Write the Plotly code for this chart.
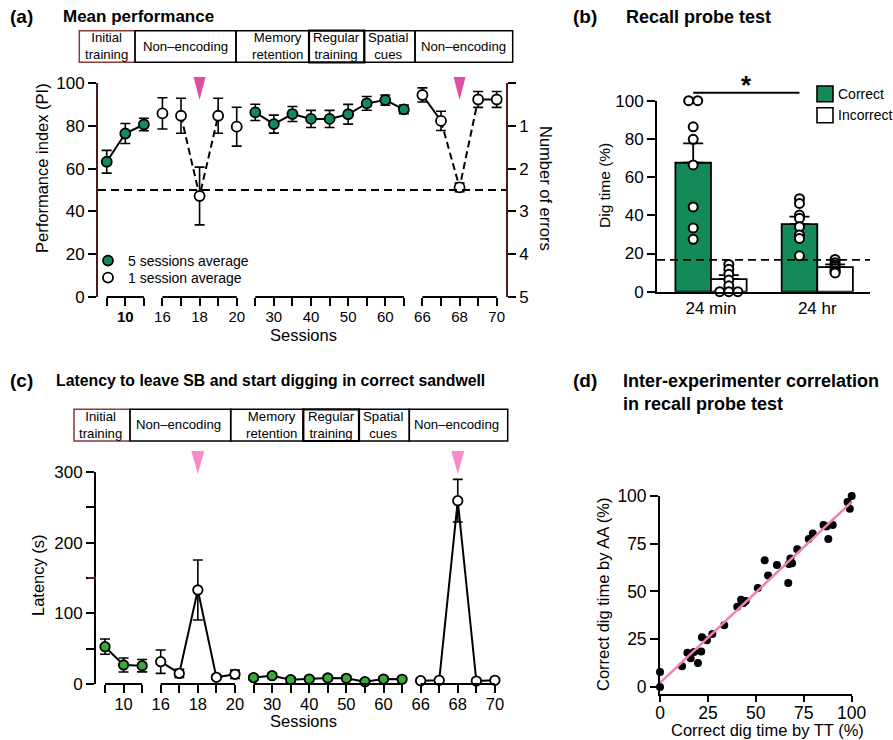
import numpy as np
import plotly.graph_objects as go

# ======================= DATA =======================
# (a) Mean performance
a_sessions = [5, 10, 15, 16, 17, 18, 19, 20, 25, 30, 35, 40, 45, 50, 55, 60, 65, 66, 67, 68, 69, 70]
a_labeled = [10, 16, 18, 20, 30, 40, 50, 60, 66, 68, 70]
a_segment = [0, 0, 0, 1, 1, 1, 1, 1, 2, 2, 2, 2, 2, 2, 2, 2, 2, 3, 3, 3, 3, 3]
a_five_avg = [1, 1, 1, 0, 0, 0, 0, 0, 1, 1, 1, 1, 1, 1, 1, 1, 1, 0, 0, 0, 0, 0]
a_pi = [63.2, 76.4, 80.6, 85.8, 84.7, 47.2, 84.7, 79.6, 86.3, 80.8, 85.5, 83.2, 83.2,
        85.4, 90.5, 92.0, 87.7, 94.4, 82.3, 51.2, 92.3, 92.3]
a_sem = [5.3, 4.7, 2.9, 7.3, 8.2, 13.5, 8.2, 9.1, 3.8, 4.2, 3.5, 4.0, 4.0, 4.6, 3.2,
         2.4, 2.0, 3.3, 4.5, 2.0, 3.7, 3.7]
a_solid_runs = [[5, 10, 15], [25, 30, 35, 40, 45, 50, 55, 60, 65], [66, 67], [69, 70]]
a_dashed_runs = [[17, 18, 19], [67, 68, 69]]
probe_sessions = [18, 68]
chance_pi = 50
err_ticks = [0, 1, 2, 3, 4, 5]
err_labels = ['', '1', '2', '3', '4', '5']

phase_labels = ["Initial<br>training", "Non–encoding", "Memory<br>retention",
                "Regular<br>training", "Spatial<br>cues", "Non–encoding"]

# (b) Recall probe test
b_groups = ['24 min', '24 hr']
b_correct = [67.5, 35.4]
b_correct_sem = [10.2, 3.9]
b_incorrect = [6.6, 12.9]
b_incorrect_sem = [2.1, 1.4]
b_correct_dots = [[100, 100, 86.3, 79.8, 66.4, 44.4, 33.4, 27.4],
                  [48.7, 46.2, 40.1, 38.4, 34.0, 29.7, 27.9, 18.8]]
b_incorrect_dots = [[14.3, 11.7, 9.1, 6.1, 3.1, 0, 0, 0],
                    [16.9, 15.2, 14.0, 13.2, 12.2, 11.0, 10.5, 9.8]]
b_chance = 16.7
b_sig_y = 104.2

# (c) Latency
c_latency = [52.8, 26.9, 25.9, 31.6, 15.0, 133.0, 9.4, 13.7, 9.0, 11.8, 6.1, 7.0, 8.5,
             8.0, 3.3, 7.0, 6.6, 4.7, 5.2, 259.4, 4.2, 5.2]
c_sem = [10.8, 9.9, 8.7, 16.5, 5.9, 42.5, 3.0, 5.9, 3.0, 3.0, 3.0, 3.0, 3.0, 3.0, 3.0,
         3.0, 3.0, 2.0, 2.0, 30.2, 2.0, 2.0]
c_runs = [[5, 10, 15], [16, 17, 18, 19, 20], [25, 30, 35, 40, 45, 50, 55, 60, 65],
          [66, 67, 68, 69, 70]]

# (d) Inter-experimenter correlation
d_tt = [0, 0, 11.5, 14.3, 16.0, 17.8, 19.8, 21.5, 21.9, 24.5, 27.3, 33.5, 40.3, 42.3, 43.6,
        44.7, 51.0, 54.6, 56.4, 61.0, 66.9, 67.3, 68.0, 68.9, 71.6, 77.6, 79.7, 85.3, 86.9,
        87.8, 90.1, 97.8, 99.0, 100]
d_aa = [0, 7.8, 10.8, 17.9, 15.0, 18.3, 12.5, 18.5, 26.0, 24.4, 27.7, 32.3, 42.0, 45.6, 44.0,
        45.0, 51.8, 66.3, 58.4, 63.8, 54.4, 64.4, 67.3, 64.8, 72.1, 77.5, 80.3, 84.8, 84.0,
        77.5, 84.8, 96.8, 93.3, 100]

# ======================= STYLE / LAYOUT =======================
W, H = 893, 740
def fx(p): return p / W
def fy(p): return 1 - p / H

FONT = "Liberation Sans, Arial, sans-serif"
AX_RED = "#4d1a1a"
GREEN_A = "#138a57"
GREEN_C = "#3ba83a"
PINK_A = "#e04ea2"
PINK_C = "#f88cc8"
PINK_D = "#f27fb9"

fig = go.Figure()
idx = list(range(len(a_sessions)))
ticktext = [("<b>%d</b>" % s if s == 10 else str(s)) if s in a_labeled else '' for s in a_sessions]
ticktext_c = [str(s) if s in a_labeled else '' for s in a_sessions]

def to_idx(runs):
    return [[a_sessions.index(s) for s in r] for r in runs]

# ---------- (a) ----------
for run in to_idx(a_solid_runs):
    fig.add_trace(go.Scatter(x=run, y=[a_pi[i] for i in run], mode='lines',
                             line=dict(color='black', width=2), showlegend=False,
                             hoverinfo='skip', xaxis='x', yaxis='y'))
for run in to_idx(a_dashed_runs):
    fig.add_trace(go.Scatter(x=run, y=[a_pi[i] for i in run], mode='lines',
                             line=dict(color='black', width=2, dash='7px,4px'), showlegend=False,
                             hoverinfo='skip', xaxis='x', yaxis='y'))
for flag, fill, name, leg in [(1, GREEN_A, '5 sessions average', 'legend'),
                              (0, 'white', '1 session average', 'legend2')]:
    sel = [i for i in idx if a_five_avg[i] == flag]
    fig.add_trace(go.Scatter(
        x=sel, y=[a_pi[i] for i in sel], mode='markers', name=name, legend=leg,
        marker=dict(size=10, color=fill, line=dict(color='black', width=1.8)),
        error_y=dict(type='data', array=[a_sem[i] for i in sel], color='black',
                     thickness=1.6, width=5),
        cliponaxis=False, xaxis='x', yaxis='y'))
# attach the right-hand "Number of errors" axis
fig.add_trace(go.Scatter(x=[None], y=[None], mode='markers', showlegend=False,
                         hoverinfo='skip', xaxis='x', yaxis='y2'))

# ---------- (b) ----------
bw = 0.335
fig.add_trace(go.Bar(x=[0, 1], y=b_correct, width=bw, offset=-bw,
                     marker=dict(color=GREEN_A, line=dict(color='black', width=1.8)),
                     error_y=dict(type='data', array=b_correct_sem, arrayminus=[0, 0],
                                  symmetric=False, color='black', thickness=1.8, width=10),
                     showlegend=False, xaxis='x3', yaxis='y3'))
fig.add_trace(go.Bar(x=[0, 1], y=b_incorrect, width=bw, offset=0,
                     marker=dict(color='white', line=dict(color='black', width=1.8)),
                     error_y=dict(type='data', array=b_incorrect_sem, arrayminus=[0, 0],
                                  symmetric=False, color='black', thickness=1.8, width=10),
                     showlegend=False, xaxis='x3', yaxis='y3'))

def swarm_offsets(vals, tol=0.5, step=0.085):
    offs = [0.0] * len(vals)
    order = sorted(range(len(vals)), key=lambda i: vals[i])
    clusters = []
    for i in order:
        if clusters and abs(vals[i] - vals[clusters[-1][-1]]) < tol:
            clusters[-1].append(i)
        else:
            clusters.append([i])
    for cl in clusters:
        n = len(cl)
        for k, i in enumerate(cl):
            offs[i] = (k - (n - 1) / 2) * step
    return offs

for g in range(2):
    for dots, center in [(b_correct_dots[g], g - bw / 2), (b_incorrect_dots[g], g + bw / 2)]:
        offs = swarm_offsets(dots)
        fig.add_trace(go.Scatter(x=[center + o for o in offs], y=dots, mode='markers',
                                 marker=dict(size=9, color='white', line=dict(color='black', width=2)),
                                 cliponaxis=False, showlegend=False, xaxis='x3', yaxis='y3'))

# ---------- (c) ----------
for run in to_idx(c_runs):
    fig.add_trace(go.Scatter(x=run, y=[c_latency[i] for i in run], mode='lines',
                             line=dict(color='black', width=2), showlegend=False,
                             hoverinfo='skip', xaxis='x4', yaxis='y4'))
for flag, fill in [(1, GREEN_C), (0, 'white')]:
    sel = [i for i in idx if a_five_avg[i] == flag]
    fig.add_trace(go.Scatter(
        x=sel, y=[c_latency[i] for i in sel], mode='markers',
        marker=dict(size=9.5, color=fill, line=dict(color='black', width=1.8)),
        error_y=dict(type='data', array=[c_sem[i] for i in sel], color='black',
                     thickness=1.6, width=5),
        cliponaxis=False, showlegend=False, xaxis='x4', yaxis='y4'))

# ---------- (d) ----------
slope, intercept = np.polyfit(d_tt, d_aa, 1)
fig.add_trace(go.Scatter(x=d_tt, y=d_aa, mode='markers',
                         marker=dict(size=8, color='black'), cliponaxis=False,
                         showlegend=False, xaxis='x5', yaxis='y5'))
xfit = [min(d_tt), max(d_tt)]
fig.add_trace(go.Scatter(x=xfit, y=[slope * v + intercept for v in xfit], mode='lines',
                         line=dict(color=PINK_D, width=2.5), showlegend=False,
                         xaxis='x5', yaxis='y5'))

# ======================= AXES =======================
tickfont = dict(family=FONT, size=17, color='black')
common = dict(showgrid=False, zeroline=False, ticks='outside', tickcolor='black',
              tickwidth=1.6, automargin=False)

layout = dict(
    template='none',
    width=W, height=H, margin=dict(l=0, r=0, t=0, b=0, pad=0), autosize=False,
    paper_bgcolor='white', plot_bgcolor='rgba(0,0,0,0)',
    font=dict(family=FONT, color='black'),
    showlegend=True,
    xaxis=dict(domain=[fx(98), fx(506)], range=[-0.47, 21.5], tickvals=idx, ticktext=ticktext,
               showline=False, ticklen=8, ticklabelstandoff=-2,
               tickfont=dict(family=FONT, size=15, color='black'), anchor='y', **common),
    yaxis=dict(domain=[fy(297), fy(83)], range=[0, 100], tickvals=[0, 20, 40, 60, 80, 100],
               showline=True, linecolor=AX_RED, linewidth=1.8, tickfont=tickfont, anchor='x',
               ticklen=8, **common),
    yaxis2=dict(overlaying='y', side='right', anchor='x', range=[5, 0], tickvals=err_ticks,
                ticktext=err_labels, showline=True, linecolor=AX_RED, linewidth=1.8,
                tickfont=tickfont, ticklen=8, **common),
    xaxis3=dict(domain=[fx(657), fx(870)], range=[-0.508, 1.496], tickvals=[0, 1],
                ticktext=b_groups, showline=True, linecolor='black', linewidth=1.8,
                showgrid=False, zeroline=False, ticks='', automargin=False,
                tickfont=tickfont, anchor='y3'),
    yaxis3=dict(domain=[fy(291.7), fy(100.7)], range=[0, 100], tickvals=[0, 20, 40, 60, 80, 100],
                showline=True, linecolor='black', linewidth=1.8, tickfont=tickfont, anchor='x3',
                ticklen=8, **common),
    xaxis4=dict(domain=[fx(96), fx(504)], range=[-0.485, 21.49], tickvals=idx, ticktext=ticktext_c,
                showline=False, ticklen=8, ticklabelstandoff=-3,
                tickfont=dict(family=FONT, size=16.5, color='black'), anchor='y4', **common),
    yaxis4=dict(domain=[fy(684), fy(472)], range=[0, 300], tickvals=[0, 50, 100, 150, 200, 250, 300],
                ticktext=['0', '', '100', '', '200', '', '300'], showline=True, linecolor='black',
                linewidth=1.8, tickfont=tickfont, anchor='x4', ticklen=8, **common),
    xaxis5=dict(domain=[fx(660), fx(851.7)], range=[0, 100], tickvals=[0, 25, 50, 75, 100],
                showline=True, linecolor='black', linewidth=1.8, ticklen=6, ticklabelstandoff=-4,
                tickfont=dict(family=FONT, size=17.5, color='black'), anchor='y5', **common),
    yaxis5=dict(domain=[fy(694), fy(496)], range=[-3.7, 100], tickvals=[0, 25, 50, 75, 100],
                showline=True, linecolor='black', linewidth=1.8, ticklen=8,
                tickfont=dict(family=FONT, size=17.5, color='black'), anchor='x5', **common),
    legend=dict(x=fx(88), y=fy(261), xanchor='left', yanchor='middle', bgcolor='rgba(0,0,0,0)',
                font=dict(family=FONT, size=14, color='black'), itemwidth=30, borderwidth=0),
    legend2=dict(x=fx(88), y=fy(278), xanchor='left', yanchor='middle', bgcolor='rgba(0,0,0,0)',
                 font=dict(family=FONT, size=14, color='black'), itemwidth=30, borderwidth=0),
)
fig.update_layout(**layout)

shapes = []
ann = []

def text(x, y, s, size=16, bold=False, xanchor='center', yanchor='middle', angle=0, color='black'):
    ann.append(dict(x=fx(x), y=fy(y), xref='paper', yref='paper', text=("<b>%s</b>" % s) if bold else s,
                    showarrow=False, xanchor=xanchor, yanchor=yanchor, textangle=angle,
                    font=dict(family=FONT, size=size, color=color)))

# segment brackets (a) and (c)
for xr, yr in [('x', 'y domain'), ('x4', 'y4 domain')]:
    for sgi in sorted(set(a_segment)):
        members = [i for i in idx if a_segment[i] == sgi]
        shapes.append(dict(type='line', xref=xr, yref=yr, x0=min(members), x1=max(members),
                           y0=0, y1=0, line=dict(color='black', width=2)))

# small reddish mid tick on the latency axis
shapes.append(dict(type='line', xref='x4 domain', yref='y4', x0=-8, x1=0, y0=150, y1=150,
                   xsizemode='pixel', xanchor=0, line=dict(color='#7a1f1f', width=1.8)))

# chance lines
shapes.append(dict(type='line', xref='x domain', yref='y', x0=0, x1=1, y0=chance_pi, y1=chance_pi,
                   line=dict(color='black', width=1.8, dash='8px,5px')))
shapes.append(dict(type='line', xref='x3 domain', yref='y3', x0=0, x1=1, y0=b_chance, y1=b_chance,
                   line=dict(color='black', width=1.8, dash='8px,5px')))

# probe triangles
for s in probe_sessions:
    shapes.append(dict(type='path', xref='x', yref='y domain', xsizemode='pixel', ysizemode='pixel',
                       xanchor=a_sessions.index(s), yanchor=1, path='M-6,6 L6,6 L0,-17 Z',
                       fillcolor=PINK_A, line=dict(width=0)))
    shapes.append(dict(type='path', xref='x4', yref='y4 domain', xsizemode='pixel', ysizemode='pixel',
                       xanchor=a_sessions.index(s), yanchor=1, path='M-6.5,21 L6.5,21 L0,-2 Z',
                       fillcolor=PINK_C, line=dict(width=0)))

# significance bar (b)
shapes.append(dict(type='line', xref='x3', yref='y3 domain', x0=0 - bw / 2, x1=1 - bw / 2,
                   y0=b_sig_y / 100, y1=b_sig_y / 100, line=dict(color='black', width=2)))
ann.append(dict(x=0.5 - bw / 2, y=b_sig_y / 100, xref='x3', yref='y3 domain', text='<b>*</b>',
                showarrow=False, yanchor='bottom', yshift=-9,
                font=dict(family=FONT, size=26, color='black')))

# legend (b)
for (y0, y1), fill, lab in [((86, 101.7), GREEN_A, 'Correct'), ((107.7, 122.7), 'white', 'Incorrect')]:
    shapes.append(dict(type='rect', xref='paper', yref='paper', x0=fx(817), x1=fx(833),
                       y0=fy(y1), y1=fy(y0), fillcolor=fill, line=dict(color='black', width=1.6)))
    text(836, (y0 + y1) / 2, lab, size=14, xanchor='left')

# phase boxes
def phase_row(edges, top, bot, centers, first_color):
    for k in range(len(edges) - 1):
        col = first_color if k == 0 else 'black'
        wdt = 2.2 if k == 3 else 1.5
        shapes.append(dict(type='rect', xref='paper', yref='paper', x0=fx(edges[k]), x1=fx(edges[k + 1]),
                           y0=fy(bot), y1=fy(top), line=dict(color=col, width=wdt),
                           fillcolor='rgba(0,0,0,0)'))
    for k, lab in enumerate(phase_labels):
        text(centers[k], (top + bot) / 2 - 0.5, lab, size=13.2)

phase_row([79.3, 135, 236, 309, 364.3, 415, 512.7], 30.7, 62.3,
          [106.7, 185, 277, 336, 388.3, 463.3], '#8b3a3a')
phase_row([74, 130, 230.7, 303.3, 359, 409.3, 507.7], 409.3, 441,
          [100, 178.3, 271.5, 331, 382.7, 456.7], '#8b3a3a')

# panel labels and titles
text(8, 17, '(a)', size=19, bold=True, xanchor='left')
text(61, 17, 'Mean performance', size=17, bold=True, xanchor='left')
text(571, 17, '(b)', size=19, bold=True, xanchor='left')
text(624, 17, 'Recall probe test', size=18, bold=True, xanchor='left')
text(8, 380, '(c)', size=19, bold=True, xanchor='left')
text(54, 380, 'Latency to leave SB and start digging in correct sandwell', size=15.8, bold=True,
     xanchor='left')
text(571, 381, '(d)', size=19, bold=True, xanchor='left')
text(621, 381, 'Inter-experimenter correlation', size=18, bold=True, xanchor='left')
text(621, 404, 'in recall probe test', size=18, bold=True, xanchor='left')

# axis titles
text(42, 168, 'Performance index (PI)', size=16.5, angle=-90)
text(546, 188, 'Number of errors', size=16.5, angle=90)
text(303, 335, 'Sessions', size=16.5)
text(604, 186, 'Dig time (%)', size=15.5, angle=-90)
text(38, 575, 'Latency (s)', size=16.5, angle=-90)
text(303, 721, 'Sessions', size=16.5)
text(603, 595, 'Correct dig time by AA (%)', size=16.5, angle=-90)
text(767, 730, 'Correct dig time by TT (%)', size=16.5)

fig.update_layout(shapes=shapes, annotations=ann)
fig.write_html("out.html", config={'displayModeBar': False},
               post_script="document.body.style.margin='0';document.body.style.overflow='hidden';")
